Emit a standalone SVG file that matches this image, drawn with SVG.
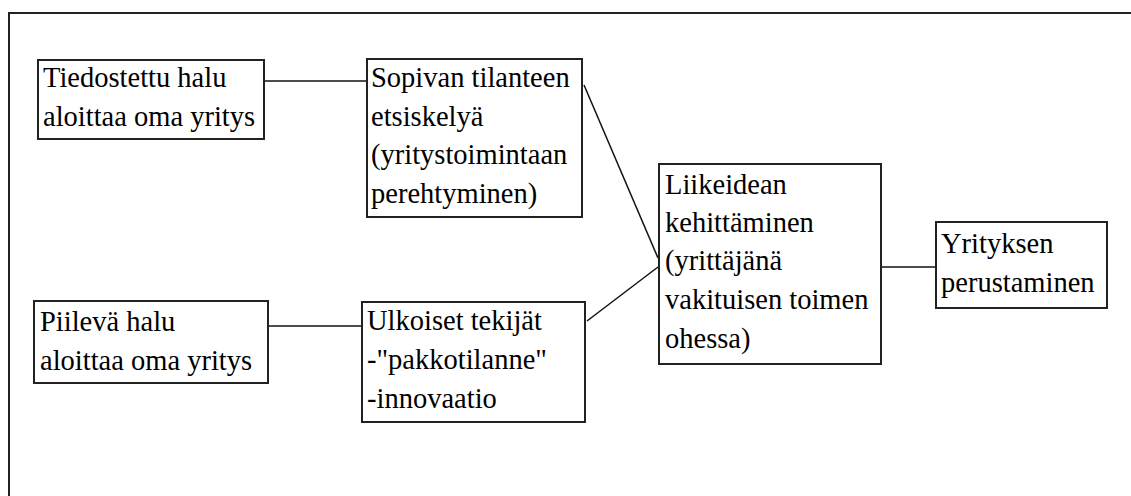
<svg xmlns="http://www.w3.org/2000/svg" width="1131" height="496" viewBox="0 0 1131 496">
<style>
.box{fill:#fff;stroke:#222;stroke-width:2}
.frame{fill:none;stroke:#222;stroke-width:2}
.t{font-family:"Liberation Serif","Times New Roman",serif;font-size:28.5px;fill:#000}
.c line{stroke:#111;stroke-width:1.5}
</style>
<rect width="1131" height="496" fill="#fff"/>
<rect class="frame" x="9" y="13" width="1140" height="500"/>
<g class="c" id="connectors">
<line x1="264" y1="81" x2="367" y2="81"/>
<line x1="268" y1="326" x2="362" y2="326"/>
<line x1="584" y1="85" x2="658" y2="258"/>
<line x1="587" y1="321" x2="658" y2="267"/>
<line x1="881" y1="267" x2="936" y2="267"/>
</g>
<g id="n1">
<rect class="box" x="38" y="60" width="226" height="79"/>
<text class="t" x="43"><tspan x="43" y="87">Tiedostettu halu</tspan><tspan x="43" y="126">aloittaa oma yritys</tspan></text>
</g>
<g id="n2">
<rect class="box" x="367" y="59" width="215" height="158"/>
<text class="t"><tspan x="371" y="87">Sopivan tilanteen</tspan><tspan x="371" y="126">etsiskelyä</tspan><tspan x="371" y="164">(yritystoimintaan</tspan><tspan x="371" y="203">perehtyminen)</tspan></text>
</g>
<g id="n3">
<rect class="box" x="34" y="301" width="234" height="82"/>
<text class="t"><tspan x="40" y="331">Piilevä halu</tspan><tspan x="40" y="370">aloittaa oma yritys</tspan></text>
</g>
<g id="n4">
<rect class="box" x="362" y="302" width="223" height="120"/>
<text class="t"><tspan x="367" y="330">Ulkoiset tekijät</tspan><tspan x="367" y="369">-"pakkotilanne"</tspan><tspan x="367" y="408">-innovaatio</tspan></text>
</g>
<g id="n5">
<rect class="box" x="659" y="164" width="222" height="200"/>
<text class="t"><tspan x="665" y="194">Liikeidean</tspan><tspan x="665" y="232">kehittäminen</tspan><tspan x="665" y="270">(yrittäjänä</tspan><tspan x="665" y="309">vakituisen toimen</tspan><tspan x="665" y="348">ohessa)</tspan></text>
</g>
<g id="n6">
<rect class="box" x="936" y="222" width="171" height="86"/>
<text class="t"><tspan x="941" y="253">Yrityksen</tspan><tspan x="941" y="292">perustaminen</tspan></text>
</g>
</svg>
